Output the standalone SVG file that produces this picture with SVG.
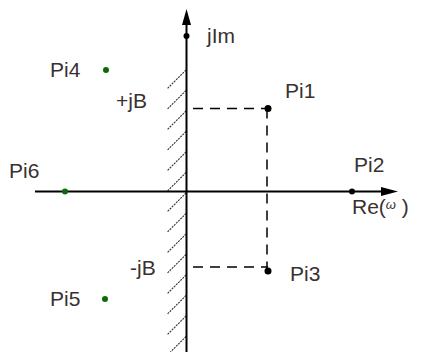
<svg xmlns="http://www.w3.org/2000/svg" width="446" height="352" viewBox="0 0 446 352">
<style>
.t{font-family:"Liberation Sans",Arial,sans-serif;font-size:21px;fill:#3a3030}
.ax{stroke:#000;stroke-width:2;fill:none}
.d{stroke:#000;stroke-width:1.5;stroke-dasharray:10 7;fill:none}
.h{stroke:#333;stroke-width:1.1;stroke-dasharray:2 1;fill:none}
.g{fill:#0a6a0a}
</style>
<rect width="446" height="352" fill="#fff"/>
<g id="hatch">
<path class="h" d="M186 70 l-19 19 M186 90.5 l-19 19 M186 111 l-19 19 M186 131.5 l-19 19 M186 152 l-19 19 M186 172.5 l-19 19 M186 193 l-19 19 M186 213.5 l-19 19 M186 234 l-19 19 M186 254.5 l-19 19 M186 275 l-19 19 M186 295.5 l-19 19 M186 316 l-19 19 M186 336.5 l-19 19"/>
</g>
<g id="connectors">
<line class="ax" x1="186.5" y1="18" x2="186.5" y2="352"/>
<polygon points="186.5,9 182,25 191,25" fill="#000"/>
<circle cx="186.5" cy="36" r="3" fill="#000"/>
<line class="ax" x1="35" y1="191.5" x2="388" y2="191.5"/>
<polygon points="398,191.5 381,187 381,196" fill="#000"/>
<path class="d" d="M193 108.5 H268 M193 267 H268 M267 108.5 V271"/>
</g>
<g id="Pi1"><circle cx="268" cy="108.5" r="3.5" fill="#000"/><text class="t" x="285" y="98">Pi1</text></g>
<g id="Pi2"><circle cx="352" cy="191.5" r="3" fill="#000"/><text class="t" x="354" y="172">Pi2</text></g>
<g id="Pi3"><circle cx="268" cy="271" r="3.5" fill="#000"/><text class="t" x="290" y="281">Pi3</text></g>
<g id="Pi4"><circle cx="106" cy="70" r="3" class="g"/><text class="t" x="50" y="77">Pi4</text></g>
<g id="Pi5"><circle cx="105" cy="299" r="3" class="g"/><text class="t" x="50" y="306">Pi5</text></g>
<g id="Pi6"><circle cx="65" cy="191.5" r="3" class="g"/><text class="t" x="9" y="178">Pi6</text></g>
<g id="labels">
<text class="t" x="207" y="43">jIm</text>
<text class="t" x="116" y="108">+jB</text>
<text class="t" x="130" y="275">-jB</text>
<text class="t" x="352" y="214">Re(<tspan font-size="13" font-style="italic" dy="-5">ω</tspan><tspan dy="5"> )</tspan></text>
</g>
</svg>
